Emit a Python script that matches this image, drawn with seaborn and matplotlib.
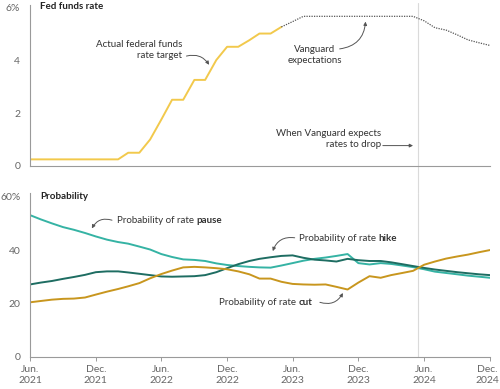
import pandas as pd
import matplotlib.pyplot as plt
import matplotlib.transforms as mtransforms
import seaborn as sns


# monthly observations, Jun 2021 .. Dec 2024
months = pd.date_range("2021-06-01", "2024-12-01", freq="MS")

# fed funds target (upper bound), Jun 2021 .. May 2023
fed_actual = [0.25, 0.25, 0.25, 0.25, 0.25, 0.25, 0.25, 0.25, 0.25, 0.5,
              0.5, 1.0, 1.75, 2.5, 2.5, 3.25, 3.25, 4.0, 4.5, 4.5,
              4.75, 5.0, 5.0, 5.25]

# Vanguard expectations, May 2023 .. Dec 2024
fed_expected = [5.25, 5.45, 5.65, 5.65, 5.65, 5.65, 5.65, 5.65, 5.65, 5.65,
                5.65, 5.65, 5.65, 5.48, 5.22, 5.13, 4.95, 4.76, 4.65, 4.55]

prob_pause = [53.2, 51.6, 50.1, 48.7, 47.7, 46.5, 45.2, 44.0, 43.1, 42.5,
              41.4, 40.3, 38.6, 37.5, 36.6, 36.4, 36.0, 35.1, 34.5, 34.1,
              33.8, 33.6, 33.5, 34.3, 35.2, 36.1, 36.8, 37.3, 37.9, 38.6,
              35.2, 34.7, 35.2, 34.9, 34.3, 33.7, 32.9, 32.0, 31.5, 31.0,
              30.5, 30.1, 29.7]

prob_hike = [27.2, 27.9, 28.5, 29.3, 30.0, 30.8, 31.8, 32.1, 32.1, 31.7,
             31.2, 30.7, 30.2, 30.1, 30.2, 30.3, 30.7, 31.8, 33.3, 34.8,
             36.0, 36.8, 37.4, 37.9, 38.1, 37.2, 36.5, 36.2, 35.8, 36.8,
             36.3, 36.0, 36.0, 35.5, 34.8, 34.1, 33.4, 32.8, 32.3, 31.8,
             31.4, 31.0, 30.7]

prob_cut = [20.5, 21.0, 21.5, 21.8, 21.9, 22.3, 23.4, 24.5, 25.5, 26.5,
            27.7, 29.5, 31.1, 32.4, 33.6, 33.8, 33.6, 33.3, 32.9, 32.1,
            31.0, 29.4, 29.4, 28.2, 27.4, 27.2, 27.1, 27.2, 26.3, 25.3,
            27.9, 30.3, 29.7, 30.7, 31.5, 32.3, 34.6, 35.8, 36.9, 37.7,
            38.4, 39.3, 40.1]

tick_dates = pd.to_datetime(["2021-06-01", "2021-12-01", "2022-06-01", "2022-12-01",
                             "2023-06-01", "2023-12-01", "2024-06-01", "2024-12-01"])
tick_labels = ["Jun.\n2021", "Dec.\n2021", "Jun.\n2022", "Dec.\n2022",
               "Jun.\n2023", "Dec.\n2023", "Jun.\n2024", "Dec.\n2024"]
drop_date = pd.Timestamp("2024-05-15")

YELLOW = "#f2c94c"
PAUSE = "#35b3a4"
HIKE = "#1e6d62"
CUT = "#c8961e"
TXT = "#333333"
GREY = "#666666"
FS = 7.0


def style_axis(ax):
    sns.despine(ax=ax)
    for side in ["left", "bottom"]:
        ax.spines[side].set_color("#9a9a9a")
        ax.spines[side].set_linewidth(0.8)
    ax.tick_params(axis="y", length=3, width=0.7, color="#9a9a9a", pad=4,
                   labelsize=7.5, labelcolor=GREY)
    ax.set_xlabel("")
    ax.set_ylabel("")
    ax.set_xlim(months[0], months[-1])


def arrow(ax, start, end, rad):
    ax.annotate("", xy=end, xytext=start,
                arrowprops=dict(arrowstyle="-|>", color="#555555", lw=0.7,
                                mutation_scale=5, shrinkA=0, shrinkB=0,
                                connectionstyle=f"arc3,rad={rad}"))


def label_bold(ax, x, y, word):
    t = ax.text(x, y, "Probability of rate ", fontsize=FS, color=TXT,
                va="center", ha="left")
    ax.annotate(word, xy=(1, 0), xycoords=t, va="bottom", ha="left",
                fontsize=FS, color=TXT, fontweight="bold")


def plot_graphs():
    sns.set_theme(style="white")
    plt.rcParams["font.family"] = ["Lato", "DejaVu Sans"]

    fig = plt.figure(figsize=(5, 3.89), dpi=100)
    ax1 = fig.add_axes([0.06, 0.5733, 0.92, 0.414])
    ax2 = fig.add_axes([0.06, 0.0823, 0.92, 0.4216])

    # top panel: fed funds rate
    sns.lineplot(x=months[:len(fed_actual)], y=fed_actual, ax=ax1,
                 color=YELLOW, linewidth=1.4)
    sns.lineplot(x=months[len(fed_actual) - 1:], y=fed_expected, ax=ax1,
                 color="#555555", linewidth=0.9, linestyle=(0, (1, 1)))
    style_axis(ax1)
    ax1.set_ylim(0, 6.08)
    ax1.set_yticks([0, 2, 4, 6])
    ax1.set_yticklabels(["0", "2", "4", "6%"])
    ax1.set_xticks([])
    ax1.axvline(drop_date, ymin=-0.2, ymax=1.01, color="#dadada", lw=0.8,
                clip_on=False, zorder=0)
    ax1.text(0.022, 0.988, "Fed funds rate", transform=ax1.transAxes,
             fontsize=7, fontweight="bold", color="#222222", va="center")

    ax1.text(pd.Timestamp("2022-07-30"), 4.38, "Actual federal funds\nrate target",
             ha="right", va="center", fontsize=FS, color=TXT, linespacing=1.3)
    arrow(ax1, (pd.Timestamp("2022-08-10"), 4.15),
          (pd.Timestamp("2022-10-12"), 3.82), -0.35)

    ax1.text(pd.Timestamp("2023-08-01"), 4.19, "Vanguard\nexpectations",
             ha="center", va="center", fontsize=FS, color=TXT, linespacing=1.3)
    arrow(ax1, (pd.Timestamp("2023-10-10"), 4.42),
          (pd.Timestamp("2023-12-21"), 5.45), 0.4)

    ax1.text(pd.Timestamp("2024-02-02"), 1.02, "When Vanguard expects\nrates to drop",
             ha="right", va="center", fontsize=FS, color=TXT, linespacing=1.35)
    arrow(ax1, (pd.Timestamp("2024-02-07"), 0.77),
          (pd.Timestamp("2024-05-01"), 0.77), 0)

    # bottom panel: probabilities
    probs = pd.DataFrame({"month": months, "pause": prob_pause,
                          "hike": prob_hike, "cut": prob_cut})
    sns.lineplot(data=probs, x="month", y="pause", ax=ax2, color=PAUSE, linewidth=1.4)
    sns.lineplot(data=probs, x="month", y="hike", ax=ax2, color=HIKE, linewidth=1.4)
    sns.lineplot(data=probs, x="month", y="cut", ax=ax2, color=CUT, linewidth=1.4)
    style_axis(ax2)
    ax2.set_ylim(0, 61.5)
    ax2.set_yticks([0, 20, 40, 60])
    ax2.set_yticklabels(["0", "20", "40", "60%"])
    ax2.set_xticks(tick_dates)
    ax2.set_xticklabels(tick_labels)
    ax2.tick_params(axis="x", length=3, width=0.7, color="#9a9a9a", pad=3,
                    labelsize=7.5, labelcolor=GREY, bottom=True)
    last = ax2.get_xticklabels()[-1]
    last.set_transform(last.get_transform() +
                       mtransforms.ScaledTranslation(-3 / 100, 0, fig.dpi_scale_trans))
    ax2.axvline(drop_date, ymin=0, ymax=1.0, color="#dadada", lw=0.8,
                clip_on=False, zorder=0)
    ax2.text(0.022, 0.976, "Probability", transform=ax2.transAxes,
             fontsize=7, fontweight="bold", color="#222222", va="center")

    label_bold(ax2, pd.Timestamp("2022-01-28"), 51.1, "pause")
    arrow(ax2, (pd.Timestamp("2022-01-15"), 51.3),
          (pd.Timestamp("2021-11-20"), 48.2), 0.4)

    label_bold(ax2, pd.Timestamp("2023-06-18"), 44.6, "hike")
    arrow(ax2, (pd.Timestamp("2023-06-07"), 44.7),
          (pd.Timestamp("2023-04-07"), 39.7), 0.4)

    label_bold(ax2, pd.Timestamp("2022-11-09"), 20.5, "cut")
    arrow(ax2, (pd.Timestamp("2023-08-16"), 20.5),
          (pd.Timestamp("2023-10-19"), 24.0), 0.4)

    plt.savefig("out.png", dpi=100)
    plt.close()


def main():
    plot_graphs()


if __name__ == "__main__":
    main()
